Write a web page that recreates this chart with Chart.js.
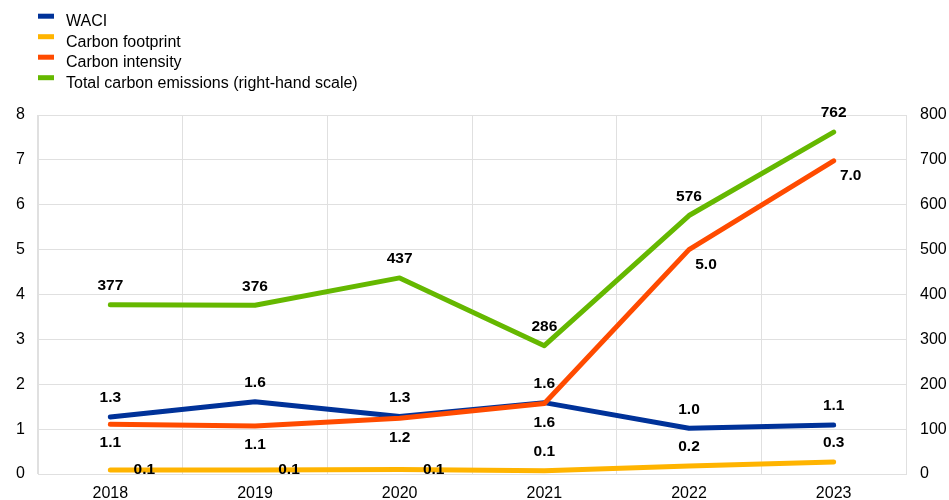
<!DOCTYPE html>
<html>
<head>
<meta charset="utf-8">
<script src="https://cdn.jsdelivr.net/npm/chart.js@4.4.1/dist/chart.umd.min.js"></script>
<style>
  html, body { margin: 0; padding: 0; background: #fff; }
  #wrap { width: 949px; height: 500px; }
</style>
</head>
<body>
<div id="wrap"><canvas id="chart"></canvas></div>
<script>
const years = ['2018', '2019', '2020', '2021', '2022', '2023'];
const waci = [1.27, 1.61, 1.28, 1.59, 1.02, 1.09];
const carbonFootprint = [0.09, 0.09, 0.1, 0.07, 0.18, 0.27];
const carbonIntensity = [1.11, 1.07, 1.24, 1.57, 5.0, 6.98];
const totalEmissions = [377, 376, 437, 286, 576, 762];
const leftTicks = [0, 1, 2, 3, 4, 5, 6, 7, 8];
const rightTicks = [0, 100, 200, 300, 400, 500, 600, 700, 800];

const FONT = '"Liberation Sans", Arial, sans-serif';
const gridColor = '#e0e0e0';

// legend + value labels drawn by hand
const labelsPlugin = {
  id: 'labelsPlugin',
  afterDatasetsDraw(chart) {
    const ctx = chart.ctx;
    ctx.save();
    ctx.font = 'bold 15.5px ' + FONT;
    ctx.fillStyle = '#000';
    ctx.textAlign = 'center';
    ctx.textBaseline = 'middle';
    chart.data.datasets.forEach((ds, i) => {
      const meta = chart.getDatasetMeta(i);
      meta.data.forEach((pt, j) => {
        const pos = ds.labelPos[j];
        let dx = 0, dy = 0;
        if (pos === 'above') dy = -19;
        else if (pos === 'below') dy = 19;
        else if (pos === 'right') dx = 34;
        else if (pos === 'belowRight') { dx = 17; dy = 15; }
        const v = ds.data[j];
        const txt = ds.decimals === 0 ? String(Math.round(v)) : v.toFixed(ds.decimals);
        ctx.fillText(txt, pt.x + dx, pt.y + dy);
      });
    });
    ctx.restore();
  },
  afterDraw(chart) {
    const ctx = chart.ctx;
    ctx.save();
    ctx.font = '16px ' + FONT;
    ctx.textBaseline = 'middle';
    ctx.textAlign = 'left';
    chart.data.datasets
      .slice()
      .sort((a, b) => a.legendIndex - b.legendIndex)
      .forEach((ds, k) => {
        const y = 21.7 + k * 20.5;
        ctx.fillStyle = ds.borderColor;
        ctx.fillRect(38, y - 8, 16, 5);
        ctx.fillStyle = '#000';
        ctx.fillText(ds.label, 66, y);
      });
    ctx.restore();
  }
};

function lineSet(label, data, color, axis, labelPos, decimals, order, legendIndex) {
  return {
    label, data, yAxisID: axis,
    borderColor: color, backgroundColor: color,
    borderWidth: 5, pointRadius: 0, pointHoverRadius: 0,
    tension: 0, borderCapStyle: 'round', borderJoinStyle: 'round',
    labelPos, decimals, order, legendIndex
  };
}

new Chart(document.getElementById('chart'), {
  type: 'line',
  data: {
    labels: years,
    datasets: [
      lineSet('Carbon intensity', carbonIntensity, '#ff4b00', 'y',
        ['below', 'below', 'below', 'below', 'belowRight', 'belowRight'], 1, 0, 2),
      lineSet('WACI', waci, '#003299', 'y',
        ['above', 'above', 'above', 'above', 'above', 'above'], 1, 1, 0),
      lineSet('Carbon footprint', carbonFootprint, '#ffb400', 'y',
        ['right', 'right', 'right', 'above', 'above', 'above'], 1, 2, 1),
      lineSet('Total carbon emissions (right-hand scale)', totalEmissions, '#65b800', 'y2',
        ['above', 'above', 'above', 'above', 'above', 'above'], 0, 3, 3)
    ]
  },
  options: {
    responsive: true,
    maintainAspectRatio: false,
    animation: false,
    events: [],
    layout: { padding: { top: 115, left: 0, right: 0, bottom: 0 } },
    plugins: { legend: { display: false }, tooltip: { enabled: false } },
    scales: {
      x: {
        offset: true,
        grid: { offset: true, color: gridColor, drawTicks: false },
        border: { color: gridColor },
        ticks: { color: '#000', font: { family: FONT, size: 16 }, padding: 10, maxRotation: 0 },
        afterFit(scale) { scale.height = 26; }
      },
      y: {
        position: 'left',
        min: 0, max: 8,
        afterBuildTicks(scale) { scale.ticks = leftTicks.map(v => ({ value: v })); },
        grid: { color: gridColor, drawTicks: false },
        border: { color: gridColor },
        ticks: { color: '#000', font: { family: FONT, size: 16 }, padding: 13 },
        afterFit(scale) { scale.width = 38; }
      },
      y2: {
        position: 'right',
        min: 0, max: 800,
        afterBuildTicks(scale) { scale.ticks = rightTicks.map(v => ({ value: v })); },
        grid: { display: false, drawTicks: false },
        border: { color: gridColor },
        ticks: { color: '#000', font: { family: FONT, size: 16 }, padding: 14 },
        afterFit(scale) { scale.width = 43; }
      }
    }
  },
  plugins: [labelsPlugin]
});
</script>
</body>
</html>
